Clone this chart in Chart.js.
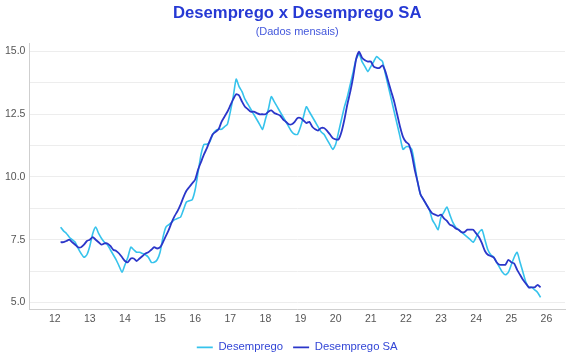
<!DOCTYPE html>
<html lang="pt-BR">
<head>
<meta charset="utf-8">
<title>Desemprego x Desemprego SA</title>
<script src="https://cdn.jsdelivr.net/npm/chart.js@4.4.1/dist/chart.umd.min.js"></script>
<style>
  html, body { margin: 0; padding: 0; background: #fff; }
  #grafico { display: block; }
</style>
</head>
<body>
<canvas id="grafico" width="570" height="360"></canvas>
<script>
// série mensal, de mar/2012 a nov/2025
const inicioAno = 2012;
const inicioMes = 3;

const desemprego = [
  8.0, 7.85, 7.75, 7.6, 7.5, 7.4, 7.15, 6.95, 6.8, 6.9,
  7.25, 7.75, 8.0, 7.75, 7.55, 7.4, 7.3, 7.1, 6.9, 6.7, 6.45, 6.2,
  6.5, 6.8, 7.2, 7.1, 7.0, 7.0, 6.95, 6.9, 6.8, 6.6, 6.6, 6.7,
  7.0, 7.6, 8.0, 8.1, 8.2, 8.3, 8.35, 8.4, 8.7, 9.0, 9.05, 9.1,
  9.5, 10.2, 10.9, 11.3, 11.3, 11.4, 11.7, 11.85, 11.9, 11.9, 12.0, 12.1,
  12.6, 13.2, 13.9, 13.6, 13.4, 13.1, 12.9, 12.7, 12.5, 12.3, 12.1, 11.9,
  12.3, 12.7, 13.2, 13.0, 12.8, 12.6, 12.4, 12.2, 12.0, 11.8, 11.7, 11.7,
  12.0, 12.4, 12.8, 12.6, 12.4, 12.2, 12.0, 11.8, 11.7, 11.5, 11.3, 11.1,
  11.3, 11.8, 12.3, 12.8, 13.2, 13.7, 14.2, 14.7, 14.9, 14.6, 14.4, 14.2,
  14.4, 14.6, 14.8, 14.7, 14.6, 14.1, 13.6, 13.1, 12.6, 12.1, 11.6, 11.1,
  11.2, 11.2, 11.1, 10.5, 9.8, 9.3, 9.1, 8.9, 8.7, 8.3, 8.1, 7.9,
  8.4, 8.6, 8.8, 8.5, 8.2, 8.0, 7.9, 7.8, 7.7, 7.6, 7.5, 7.4,
  7.6, 7.8, 7.9, 7.5, 7.1, 6.9, 6.8, 6.6, 6.4, 6.2, 6.1, 6.2,
  6.5, 6.8, 7.0, 6.6, 6.2, 5.8, 5.6, 5.6, 5.5, 5.4, 5.2
];

const desempregoSA = [
  7.4, 7.4, 7.45, 7.5, 7.4, 7.3, 7.2, 7.2, 7.3, 7.45,
  7.5, 7.6, 7.5, 7.4, 7.3, 7.35, 7.35, 7.25, 7.1, 7.05, 6.95, 6.8,
  6.65, 6.6, 6.75, 6.75, 6.65, 6.75, 6.85, 6.95, 7.0, 7.1, 7.2, 7.15,
  7.2, 7.4, 7.65, 7.9, 8.2, 8.45, 8.65, 8.9, 9.2, 9.45, 9.6, 9.75,
  9.9, 10.3, 10.6, 10.9, 11.15, 11.45, 11.7, 11.8, 11.9, 12.2, 12.4, 12.6,
  12.85, 13.1, 13.3, 13.25, 13.0, 12.8, 12.7, 12.6, 12.6, 12.55, 12.5, 12.5,
  12.5, 12.6, 12.65, 12.55, 12.5, 12.45, 12.3, 12.2, 12.1, 12.1, 12.2, 12.35,
  12.35, 12.25, 12.15, 12.2, 12.0, 11.9, 11.85, 11.95, 11.95, 11.85, 11.7, 11.55,
  11.5, 11.5, 11.8, 12.3, 12.9, 13.4, 14.0, 14.7, 15.0, 14.75, 14.65, 14.6,
  14.6, 14.4, 14.35, 14.35, 14.45, 14.2, 13.8, 13.4, 13.0, 12.5, 12.0, 11.6,
  11.4, 11.3, 10.9, 10.3, 9.8, 9.3, 9.1, 8.9, 8.7, 8.55, 8.5, 8.45,
  8.5, 8.35, 8.25, 8.1, 8.05, 7.95, 7.9, 7.8, 7.8, 7.9, 7.9, 7.9,
  7.75, 7.6, 7.35, 7.05, 6.9, 6.85, 6.8, 6.6, 6.5, 6.5, 6.5, 6.7,
  6.6, 6.55, 6.3, 6.1, 5.9, 5.75, 5.6, 5.6, 5.6, 5.7, 5.6
];

// rótulos do eixo x (ano com dois dígitos)
const anosEixo = ['12', '13', '14', '15', '16', '17', '18', '19', '20', '21', '22', '23', '24', '25', '26'];
const ticksY = [5.0, 7.5, 10.0, 12.5, 15.0];

const fonte = '"Liberation Sans", Arial, Helvetica, sans-serif';
const azulTitulo = '#2639d4';

// posição de cada mês no eixo: ano (2 dígitos) + fração do ano
function posicaoMes(i) {
  const m = inicioMes - 1 + i;
  return (inicioAno - 2000) + Math.floor(m / 12) + (m % 12) / 12;
}

function montarPontos(valores) {
  return valores.map((v, i) => ({ x: posicaoMes(i), y: v }));
}

const ctx = document.getElementById('grafico').getContext('2d');

new Chart(ctx, {
  type: 'line',
  data: {
    datasets: [
      {
        label: 'Desemprego',
        data: montarPontos(desemprego),
        borderColor: '#36c3ec',
        backgroundColor: '#36c3ec',
        borderWidth: 1.6,
        pointRadius: 0,
        tension: 0.2,
        order: 2
      },
      {
        label: 'Desemprego SA',
        data: montarPontos(desempregoSA),
        borderColor: '#2b36c9',
        backgroundColor: '#2b36c9',
        borderWidth: 1.8,
        pointRadius: 0,
        tension: 0.2,
        order: 1
      }
    ]
  },
  options: {
    responsive: false,
    animation: false,
    events: [],
    layout: { padding: { left: 1, right: 5, top: 0, bottom: -3 } },
    plugins: {
      title: {
        display: true,
        text: 'Desemprego x Desemprego SA',
        color: azulTitulo,
        fullSize: false,
        font: { family: fonte, size: 16.7, weight: 'bold' },
        padding: { top: 3, bottom: 1 }
      },
      subtitle: {
        display: true,
        text: '(Dados mensais)',
        color: '#4458dc',
        fullSize: false,
        font: { family: fonte, size: 11 },
        padding: { top: 1, bottom: 5 }
      },
      legend: {
        position: 'bottom',
        fullSize: false,
        labels: {
          usePointStyle: true,
          pointStyle: 'line',
          pointStyleWidth: 16,
          color: '#3346d6',
          padding: 10,
          font: { family: fonte, size: 11.3 },
          sort: (a, b) => a.datasetIndex - b.datasetIndex
        }
      },
      tooltip: { enabled: false }
    },
    scales: {
      x: {
        type: 'linear',
        min: 11.28,
        max: 26.53,
        grid: { display: false, drawTicks: false },
        border: { display: true, color: '#cfcfcf' },
        ticks: {
          stepSize: 1,
          includeBounds: false,
          padding: 3,
          color: '#555',
          font: { family: fonte, size: 10.5 },
          callback: (v) => anosEixo[Math.round(v) - 12] || ''
        },
        afterFit: (escala) => { escala.height = 22; }
      },
      y: {
        min: 4.71,
        max: 15.33,
        grid: { color: '#ededed', drawTicks: false },
        border: { display: true, color: '#cfcfcf' },
        ticks: {
          stepSize: 1.25,
          includeBounds: false,
          padding: 4,
          color: '#555',
          font: { family: fonte, size: 10.5 },
          callback: (v) => ticksY.includes(v) ? v.toFixed(1) : ''
        }
      }
    }
  }
});
</script>
</body>
</html>
